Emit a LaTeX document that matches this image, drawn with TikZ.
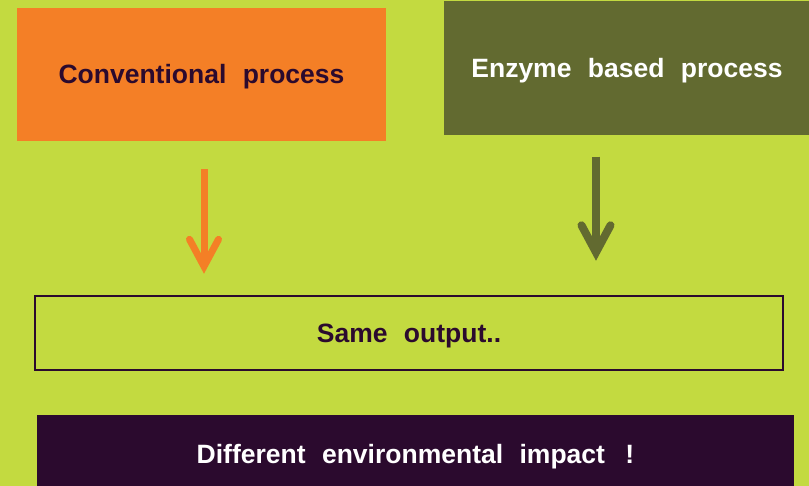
\documentclass[tikz,border=0pt]{standalone}
\usepackage{fontspec}
\setmainfont{Liberation Sans}
\usetikzlibrary{arrows.meta}

\definecolor{limebg}{HTML}{C3DA40}
\definecolor{orangebox}{HTML}{F47F26}
\definecolor{olivebox}{HTML}{626A30}
\definecolor{darkplum}{HTML}{2B0A2E}

% wider gap between words, as set on the slide
\newcommand{\wgap}{\hspace{0.62em}}

\tikzset{
  panel/.style={rectangle, inner sep=0pt, font=\fontsize{26.5}{30}\bfseries,
                text height=19pt, text depth=0pt, align=center},
  flowarrow/.style={line width=#1, -{Straight Barb[length=27pt, width=29pt, line cap=round, line join=miter]}},
}

\begin{document}
\begin{tikzpicture}[x=1pt, y=-1pt]
  % backdrop and page size
  \fill[limebg] (0,0) rectangle (809,486);
  \useasboundingbox (0,0) rectangle (809,486);

  % the two processes
  \node[panel, fill=orangebox, text=darkplum, minimum width=369pt, minimum height=132.6pt]
    (conv) at (201.5,74.3) {Conventional\wgap process};
  \node[panel, fill=olivebox, text=white, minimum width=366pt, minimum height=133.5pt]
    (enz) at (627,67.8) {Enzyme\wgap based\wgap process};

  % common result
  \node[panel, draw=darkplum, line width=2.5pt, text=darkplum, minimum width=748pt, minimum height=74pt]
    (out) at (409,333) {Same\wgap output..};

  % closing remark
  \node[panel, fill=darkplum, text=white, minimum width=757pt, minimum height=78pt]
    (impact) at (415.5,454) {Different\wgap environmental\wgap impact\wgap\hspace{0.15em}!};

  % arrows from each process to the shared output
  \draw[flowarrow=7pt, draw=orangebox, shorten <=28.4pt, shorten >=21pt]
    ([xshift=2.5pt]conv.south) -- ([xshift=2.5pt]conv.south |- out.north);
  \draw[flowarrow=8pt, draw=olivebox, shorten <=22pt, shorten >=34pt]
    ([xshift=-31pt]enz.south) -- ([xshift=-31pt]enz.south |- out.north);
\end{tikzpicture}
\end{document}
